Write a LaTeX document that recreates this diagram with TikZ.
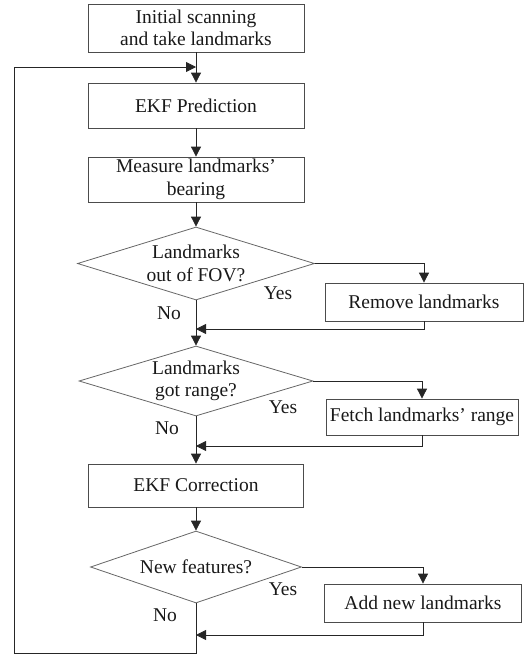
\documentclass[tikz,border=0pt]{standalone}
\usepackage{fontspec}
\setmainfont{Liberation Serif}
\usetikzlibrary{shapes.geometric,arrows.meta}
\begin{document}
\begin{tikzpicture}[x=1pt,y=-1pt,
  every node/.style={font=\fontsize{19.5}{22.5}\selectfont, text=black!90},
  stepbox/.style={draw=black!70, line width=0.8pt, rectangle, inner sep=0pt, align=center},
  decision/.style={draw=black!60, line width=0.8pt, diamond, inner sep=0pt},
  arr/.style={draw=black!85, line width=0.8pt, -{Triangle[length=10pt,width=10pt]}},
  lab/.style={inner sep=0pt}]
\useasboundingbox (0,0) rectangle (524,656);
% main column
\node[stepbox, minimum width=216pt, minimum height=48pt] (n1) at (196,28) {Initial scanning\\and take landmarks};
\node[stepbox, minimum width=216pt, minimum height=45pt] (n2) at (196,105.5) {EKF Prediction};
\node[stepbox, minimum width=216pt, minimum height=45pt] (n3) at (196,179.5) {Measure landmarks'\\bearing};
\node[decision, minimum width=237pt, minimum height=73pt] (d1) at (196,263.5) {};
\node[lab, align=center] (d1t) at (d1.center) {Landmarks\\out of FOV?};
\node[stepbox, minimum width=198pt, minimum height=38pt] (r1) at (424,302) {Remove landmarks};
\node[decision, minimum width=234pt, minimum height=70pt] (d2) at (196,381) {};
\node[lab, align=center] (d2t) at (d2.center) {Landmarks\\got range?};
\node[stepbox, minimum width=192pt, minimum height=36pt] (r2) at (422,417) {Fetch landmarks' range};
\node[stepbox, minimum width=215pt, minimum height=43pt] (n4) at (196,485.5) {EKF Correction};
\node[decision, minimum width=211pt, minimum height=72pt] (d3) at (196,567) {};
\node[lab, align=center] (d3t) at (d3.center) {New features?};
\node[stepbox, minimum width=197pt, minimum height=38pt] (r3) at (423,603) {Add new landmarks};
% labels
\node[lab] (y1) at (278,293) {Yes};
\node[lab] (no1) at (169,313) {No};
\node[lab] (y2) at (283,407) {Yes};
\node[lab] (no2) at (167,428) {No};
\node[lab] (y3) at (283,589) {Yes};
\node[lab] (no3) at (165,615) {No};
% coordinates
\coordinate (j1) at (196,329);
\coordinate (j2) at (196,446);
\coordinate (j3) at (196,635);
\coordinate (lb) at (196,653);
\coordinate (ll) at (14,653);
\coordinate (lt) at (14,67);
\coordinate (lin) at (196,67);
% connectors
\draw[arr] (n1.south) -- (n2.north);
\draw[arr] (n2.south) -- (n3.north);
\draw[arr] (n3.south) -- (d1.north);
\draw[arr] (d1.east) -| (r1.north);
\draw[arr] (d1.south) -- (d2.north);
\draw[arr] (r1.south) |- (j1);
\draw[arr] (d2.east) -| (r2.north);
\draw[arr] (d2.south) -- (n4.north);
\draw[arr] (r2.south) |- (j2);
\draw[arr] (n4.south) -- (d3.north);
\draw[arr] (d3.east) -| (r3.north);
\draw[arr] (r3.south) |- (j3);
\draw[arr] (d3.south) -- (lb) -- (ll) -- (lt) -- (lin);
\end{tikzpicture}
\end{document}
